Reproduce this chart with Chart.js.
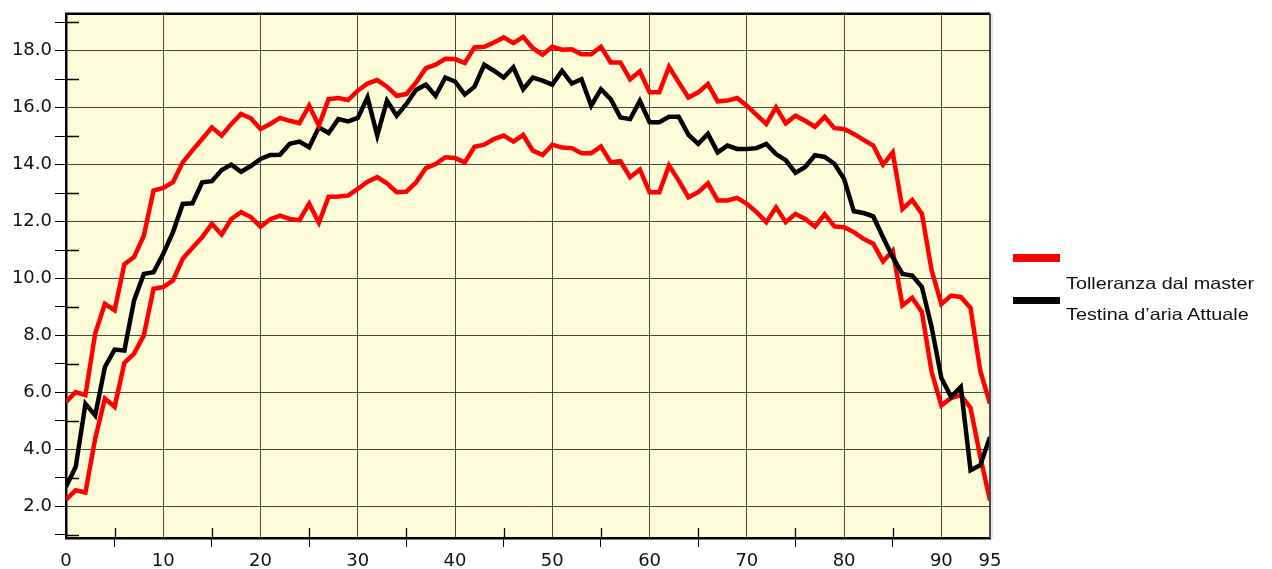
<!DOCTYPE html>
<html>
<head>
<meta charset="utf-8">
<script src="https://cdn.jsdelivr.net/npm/chart.js@4.4.1/dist/chart.umd.min.js"></script>
<style>
  html, body { margin: 0; padding: 0; background: #fff; }
  #wrap { position: relative; width: 1272px; height: 569px; }
  .swatch { position: absolute; left: 1013px; width: 47px; }
  .legend-text {
    position: absolute; left: 1066px; white-space: nowrap;
    font-family: 'Liberation Sans', Arial, sans-serif; font-size: 16.5px; line-height: 16px;
    color: #111; transform: scaleX(1.2); transform-origin: left top;
  }
</style>
</head>
<body>
<div id="wrap">
  <canvas id="chart" width="1272" height="569"></canvas>
  <div class="swatch" style="top:254px;height:8px;background:#ff0000"></div>
  <div class="legend-text" style="top:275px">Tolleranza dal master</div>
  <div class="swatch" style="top:297px;height:7px;background:#000"></div>
  <div class="legend-text" style="top:306px">Testina d’aria Attuale</div>
</div>
<script>
const POSITIONS = [
  0, 1, 2, 3, 4, 5, 6, 7, 8, 9, 10, 11, 12, 13, 14, 15, 16, 17, 18, 19,
  20, 21, 22, 23, 24, 25, 26, 27, 28, 29, 30, 31, 32, 33, 34, 35, 36, 37, 38, 39,
  40, 41, 42, 43, 44, 45, 46, 47, 48, 49, 50, 51, 52, 53, 54, 55, 56, 57, 58, 59,
  60, 61, 62, 63, 64, 65, 66, 67, 68, 69, 70, 71, 72, 73, 74, 75, 76, 77, 78, 79,
  80, 81, 82, 83, 84, 85, 86, 87, 88, 89, 90, 91, 92, 93, 94, 95
];

// tolleranza: limite superiore
const TOL_MAX = [
  5.66, 6.01, 5.90, 8.06, 9.11, 8.88, 10.50, 10.75, 11.50, 13.09,
  13.18, 13.38, 14.08, 14.50, 14.90, 15.31, 15.02, 15.43, 15.78, 15.63,
  15.25, 15.43, 15.64, 15.54, 15.46, 16.07, 15.37, 16.30, 16.34, 16.27,
  16.60, 16.85, 16.97, 16.74, 16.42, 16.48, 16.89, 17.39, 17.51, 17.72,
  17.71, 17.57, 18.12, 18.14, 18.29, 18.47, 18.27, 18.49, 18.09, 17.86,
  18.14, 18.04, 18.05, 17.88, 17.88, 18.14, 17.59, 17.59, 17.00, 17.28,
  16.54, 16.54, 17.44, 16.89, 16.36, 16.54, 16.83, 16.22, 16.25, 16.34,
  16.07, 15.75, 15.43, 16.01, 15.45, 15.72, 15.54, 15.33, 15.68, 15.28,
  15.25, 15.08, 14.87, 14.67, 14.00, 14.43, 12.44, 12.76, 12.27, 10.28,
  9.10, 9.40, 9.35, 8.96, 6.75, 5.60
];

// testina attuale
const ATTUALE = [
  2.68, 3.38, 5.60, 5.19, 6.89, 7.50, 7.47, 9.23, 10.16, 10.22,
  10.87, 11.63, 12.62, 12.64, 13.38, 13.42, 13.81, 14.00, 13.75, 13.95,
  14.20, 14.34, 14.35, 14.73, 14.81, 14.61, 15.31, 15.11, 15.60, 15.52,
  15.64, 16.36, 15.02, 16.25, 15.72, 16.13, 16.63, 16.81, 16.42, 17.06,
  16.92, 16.46, 16.74, 17.51, 17.30, 17.06, 17.42, 16.65, 17.06, 16.95,
  16.81, 17.30, 16.85, 17.00, 16.07, 16.65, 16.30, 15.66, 15.60, 16.24,
  15.49, 15.49, 15.68, 15.68, 15.05, 14.73, 15.08, 14.43, 14.67, 14.55,
  14.55, 14.58, 14.73, 14.37, 14.16, 13.71, 13.92, 14.33, 14.27, 14.03,
  13.50, 12.36, 12.30, 12.18, 11.45, 10.75, 10.16, 10.10, 9.70, 8.29,
  6.50, 5.84, 6.19, 3.26, 3.44, 4.43
];

// tolleranza: limite inferiore
const TOL_MIN = [
  2.23, 2.56, 2.48, 4.37, 5.78, 5.49, 7.03, 7.36, 8.00, 9.64,
  9.70, 9.93, 10.69, 11.08, 11.45, 11.92, 11.54, 12.09, 12.33, 12.16,
  11.82, 12.08, 12.21, 12.09, 12.05, 12.63, 11.96, 12.87, 12.88, 12.91,
  13.15, 13.40, 13.56, 13.34, 13.03, 13.05, 13.38, 13.88, 14.02, 14.26,
  14.23, 14.08, 14.63, 14.70, 14.90, 15.02, 14.81, 15.04, 14.49, 14.34,
  14.70, 14.60, 14.58, 14.40, 14.40, 14.64, 14.08, 14.12, 13.56, 13.83,
  13.03, 13.03, 13.97, 13.44, 12.85, 13.03, 13.34, 12.74, 12.74, 12.83,
  12.62, 12.33, 11.98, 12.50, 11.98, 12.27, 12.09, 11.82, 12.25, 11.83,
  11.80, 11.63, 11.39, 11.22, 10.60, 10.98, 9.05, 9.32, 8.82, 6.71,
  5.54, 5.80, 5.90, 5.45, 3.73, 2.20
];

const X_TICKS = [0, 5, 10, 15, 20, 25, 30, 35, 40, 45, 50, 55, 60, 65, 70, 75, 80, 85, 90, 95];
const Y_TICKS = [1, 2, 3, 4, 5, 6, 7, 8, 9, 10, 11, 12, 13, 14, 15, 16, 17, 18, 19];

const RED = '#ff0000';
const GRID = 'rgba(25,25,25,0.8)';
const PLOT_BG = '#fefcd8';
const TICK_FONT = { family: 'DejaVu Sans, Verdana, sans-serif', size: 18 };

const isMajorX = v => v % 10 === 0 || v === 95;
const isMajorY = v => v % 2 === 0;

// fondo giallo, bordo e tacche minori che attraversano gli assi
const frame = {
  id: 'frame',
  beforeDraw(chart) {
    const { ctx, chartArea: a } = chart;
    ctx.save();
    ctx.fillStyle = PLOT_BG;
    ctx.fillRect(a.left, a.top, a.right - a.left, a.bottom - a.top);
    ctx.restore();
  },
  afterDraw(chart) {
    const { ctx, chartArea: a, scales } = chart;
    ctx.save();
    ctx.strokeStyle = '#000';
    ctx.lineWidth = 1.3;
    ctx.beginPath();
    Y_TICKS.filter(v => !isMajorY(v)).forEach(v => {
      const y = Math.round(scales.y.getPixelForValue(v)) + 0.5;
      ctx.moveTo(a.left, y); ctx.lineTo(a.left + 13, y);
    });
    X_TICKS.filter(v => !isMajorX(v)).forEach(v => {
      const x = Math.round(scales.x.getPixelForValue(v)) + 0.5;
      ctx.moveTo(x, a.bottom); ctx.lineTo(x, a.bottom - 10);
    });
    ctx.stroke();

    ctx.lineWidth = 2.5;
    ctx.beginPath();
    ctx.moveTo(a.left - 1, a.top);
    ctx.lineTo(a.right, a.top);
    ctx.stroke();
    ctx.strokeStyle = '#4a4a4a';
    ctx.lineWidth = 2;
    ctx.beginPath();
    ctx.moveTo(a.right, a.top);
    ctx.lineTo(a.right, a.bottom);
    ctx.stroke();
    ctx.strokeStyle = 'rgba(0,0,0,0.2)';
    ctx.lineWidth = 1;
    ctx.beginPath();
    ctx.moveTo(a.right + 2, a.top);
    ctx.lineTo(a.right + 2, a.bottom);
    ctx.stroke();
    ctx.restore();
  }
};

function lineSet(label, data, color) {
  return {
    label, data,
    borderColor: color, backgroundColor: color,
    borderWidth: 4.5, pointRadius: 0, tension: 0,
    borderJoinStyle: 'miter', fill: false,
  };
}

new Chart(document.getElementById('chart'), {
  type: 'line',
  data: {
    labels: POSITIONS,
    datasets: [
      lineSet('Tolleranza dal master', TOL_MAX, RED),
      lineSet('Testina d’aria Attuale', ATTUALE, '#000'),
      lineSet('Tolleranza dal master (min)', TOL_MIN, RED),
    ]
  },
  options: {
    responsive: false,
    animation: false,
    devicePixelRatio: 1,
    layout: { padding: { top: 13, right: 282, left: 0, bottom: 0 } },
    plugins: { legend: { display: false }, tooltip: { enabled: false } },
    scales: {
      x: {
        type: 'linear', min: 0, max: 95,
        afterBuildTicks: s => { s.ticks = X_TICKS.map(v => ({ value: v })); },
        afterFit: s => { s.height = 31; },
        grid: {
          color: c => isMajorX(c.tick.value) ? GRID : 'transparent',
          tickColor: c => isMajorX(c.tick.value) ? 'transparent' : '#000',
          tickLength: 9, lineWidth: 1,
        },
        border: { color: '#000', width: 2.5 },
        ticks: {
          autoSkip: false, maxRotation: 0, padding: 4,
          color: '#111', font: TICK_FONT,
          callback: v => isMajorX(v) ? String(v) : '',
        },
      },
      y: {
        type: 'linear', min: 0.88, max: 19.3,
        afterBuildTicks: s => { s.ticks = Y_TICKS.map(v => ({ value: v })); },
        afterFit: s => { s.width = 66; },
        grid: {
          color: c => isMajorY(c.tick.value) ? GRID : 'transparent',
          tickColor: '#000',
          tickLength: 11, lineWidth: 1,
        },
        border: { color: '#000', width: 2.5 },
        ticks: {
          autoSkip: false, padding: 3,
          color: '#111', font: TICK_FONT,
          callback: v => isMajorY(v) ? v.toFixed(1) : '',
        },
      }
    }
  },
  plugins: [frame],
});
</script>
</body>
</html>
